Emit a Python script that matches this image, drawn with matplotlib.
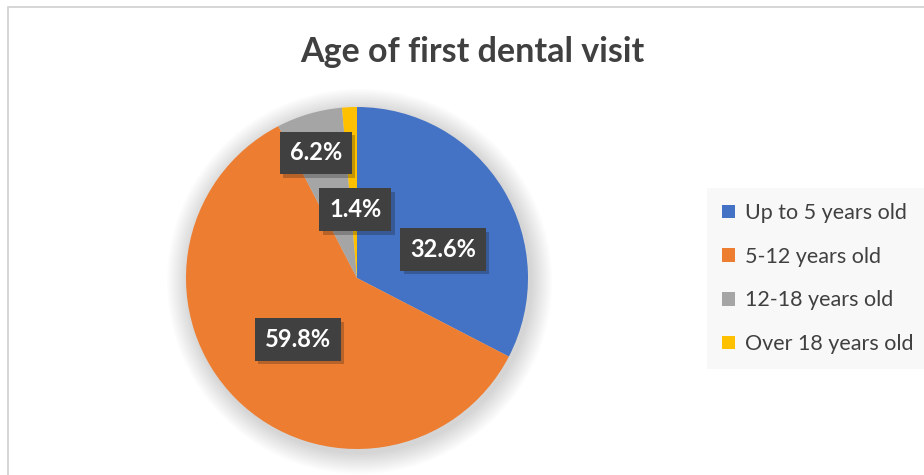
import numpy as np
import matplotlib.pyplot as plt
from matplotlib.patches import Circle, Rectangle
import matplotlib.patheffects as pe

plt.rcParams['font.family'] = ['Lato', 'DejaVu Sans']

groups = ['Up to 5 years old', '5-12 years old', '12-18 years old', 'Over 18 years old']
shares = [32.6, 59.8, 6.2, 1.4]
colors = ['#4472c4', '#ed7d31', '#a5a5a5', '#ffc000']
# where each label sits: distance from centre and a small turn off the slice middle (deg)
label_r = [0.53, 0.50, 0.77, 0.40]
label_turn = [-13, 1, 2, -1]

fig = plt.figure(figsize=(9.24, 4.75), dpi=100)
W, H = 924, 475

# chart frame
frame = Rectangle((8 / W, -0.1), 1.2, 1 - 7 / H + 0.1, transform=fig.transFigure,
                  facecolor='white', edgecolor='#d0d0d0', lw=1.2, zorder=-5)
fig.patches.append(frame)

fig.text(472 / W, 1 - 52 / H, 'Age of first dental visit', ha='center', va='center',
         fontsize=24.5, fontweight='bold', color='#404040')

cx, cy, r = 357, 278, 171
ax = fig.add_axes([(cx - r) / W, (H - cy - r) / H, 2 * r / W, 2 * r / H])

wedges, _ = ax.pie(shares, colors=colors, startangle=90, counterclock=False,
                   radius=1.0, wedgeprops=dict(lw=0))
ax.set_xlim(-1, 1)
ax.set_ylim(-1, 1)
ax.set_aspect('equal')
ax.axis('off')
for w in wedges:
    w.set_zorder(2)

# soft glow under the pie
for k in range(14):
    rr = 1.0 + 0.009 * (14 - k)
    ax.add_patch(Circle((0.015, -0.02), rr, facecolor='#000000', alpha=0.012,
                        lw=0, zorder=0, clip_on=False))

for w, val, rl, turn in zip(wedges, shares, label_r, label_turn):
    mid = np.deg2rad((w.theta1 + w.theta2) / 2 + turn)
    t = ax.text(rl * np.cos(mid), rl * np.sin(mid), f'{val}%', ha='center', va='center',
                fontsize=17, fontweight='bold', color='white', zorder=5,
                bbox=dict(boxstyle='square,pad=0.42', facecolor='#404040', edgecolor='none'))
    t.get_bbox_patch().set_path_effects([pe.SimplePatchShadow(offset=(2.5, -2.5), alpha=0.25),
                                         pe.Normal()])

leg = fig.legend(wedges, groups, loc='upper left', bbox_to_anchor=(707 / W, 1 - 188 / H),
                 borderaxespad=0, frameon=True, fontsize=15.5, handlelength=0.6,
                 handleheight=0.6, handletextpad=0.45, labelspacing=1.1, borderpad=0.7,
                 labelcolor='#404040')
leg.get_frame().set_facecolor('#f7f7f7')
leg.get_frame().set_edgecolor('none')
leg.get_frame().set_boxstyle('square', pad=0)

fig.savefig('out.png', dpi=100)
